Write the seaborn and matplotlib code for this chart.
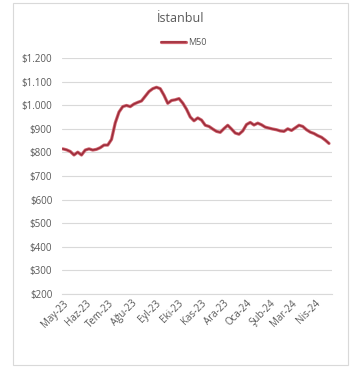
import matplotlib
matplotlib.use("Agg")
import matplotlib.pyplot as plt
import matplotlib.patches as mpatches
import matplotlib.patheffects as pe
import seaborn as sns
import pandas as pd

# M50 price series for Istanbul, one reading every five days
start_date = "2023-05-01"
m50_values = [815, 811, 804, 789, 801, 789, 810, 815, 810, 813,
              820, 831, 831, 855, 925, 971, 994, 999, 994, 1005,
              1012, 1018, 1038, 1058, 1070, 1076, 1070, 1042, 1008, 1020,
              1023, 1028, 1009, 983, 950, 934, 946, 937, 915, 910,
              899, 889, 885, 901, 915, 899, 882, 877, 891, 918,
              927, 916, 924, 917, 907, 903, 899, 896, 891, 889,
              900, 893, 904, 915, 910, 896, 886, 880, 871, 864,
              852, 838]
series_name = "M50"
title = "İstanbul"

month_labels = ["May-23", "Haz-23", "Tem-23", "Ağu-23", "Eyl-23", "Eki-23",
                "Kas-23", "Ara-23", "Oca-24", "Şub-24", "Mar-24", "Nis-24"]
y_ticks = [200, 300, 400, 500, 600, 700, 800, 900, 1000, 1100, 1200]
y_labels = ["$200", "$300", "$400", "$500", "$600", "$700", "$800",
            "$900", "$1.000", "$1.100", "$1.200"]

df = pd.DataFrame({
    "date": pd.date_range(start_date, periods=len(m50_values), freq="5D"),
    "price": m50_values,
})

sns.set_style("white")
plt.rcParams["font.family"] = ["Open Sans", "DejaVu Sans"]

fig = plt.figure(figsize=(3.61, 3.74), dpi=100)
ax = fig.add_axes([62 / 361, 80 / 374, 270 / 361, 236 / 374])

# chart-area frame
fig.patches.append(mpatches.Rectangle((13 / 361, 9 / 374), 335 / 361, 362 / 374,
                                      transform=fig.transFigure, fill=False,
                                      edgecolor="#d9d9d9", linewidth=0.8))

sns.lineplot(data=df, x="date", y="price", ax=ax, color="#9c2c3a",
             linewidth=1.1, label=series_name,
             path_effects=[pe.Stroke(linewidth=2.3, foreground="#d06570"),
                           pe.Normal()])

ax.set_ylim(200, 1200)
ax.set_yticks(y_ticks)
ax.set_yticklabels(y_labels)
month_ticks = pd.date_range("2023-05-01", periods=len(month_labels), freq="MS")
ax.set_xticks(month_ticks)
ax.set_xticklabels(month_labels, rotation=45, ha="right", va="top",
                   rotation_mode="anchor")
ax.set_xlim(pd.Timestamp("2023-04-30"), pd.Timestamp("2024-04-24"))

ax.grid(axis="y", color="#d9d9d9", linewidth=0.8)
ax.grid(axis="x", visible=False)
for side in ["top", "right", "left"]:
    ax.spines[side].set_visible(False)
ax.spines["bottom"].set_color("#d9d9d9")
ax.spines["bottom"].set_linewidth(0.8)
ax.tick_params(axis="both", length=0, labelsize=7, labelcolor="#595959")
ax.tick_params(axis="y", pad=7)
ax.tick_params(axis="x", pad=3)
ax.set_xlabel("")
ax.set_ylabel("")

ax.legend(loc="lower center", bbox_to_anchor=(0.45, 1.03), frameon=False,
          fontsize=6.5, labelcolor="#595959", handlelength=2.8,
          handletextpad=0.2, borderaxespad=0)

fig.text(0.5, 1 - 18 / 374, title, ha="center", va="center",
         fontsize=9, color="#595959")

fig.savefig("out.png", dpi=100)
